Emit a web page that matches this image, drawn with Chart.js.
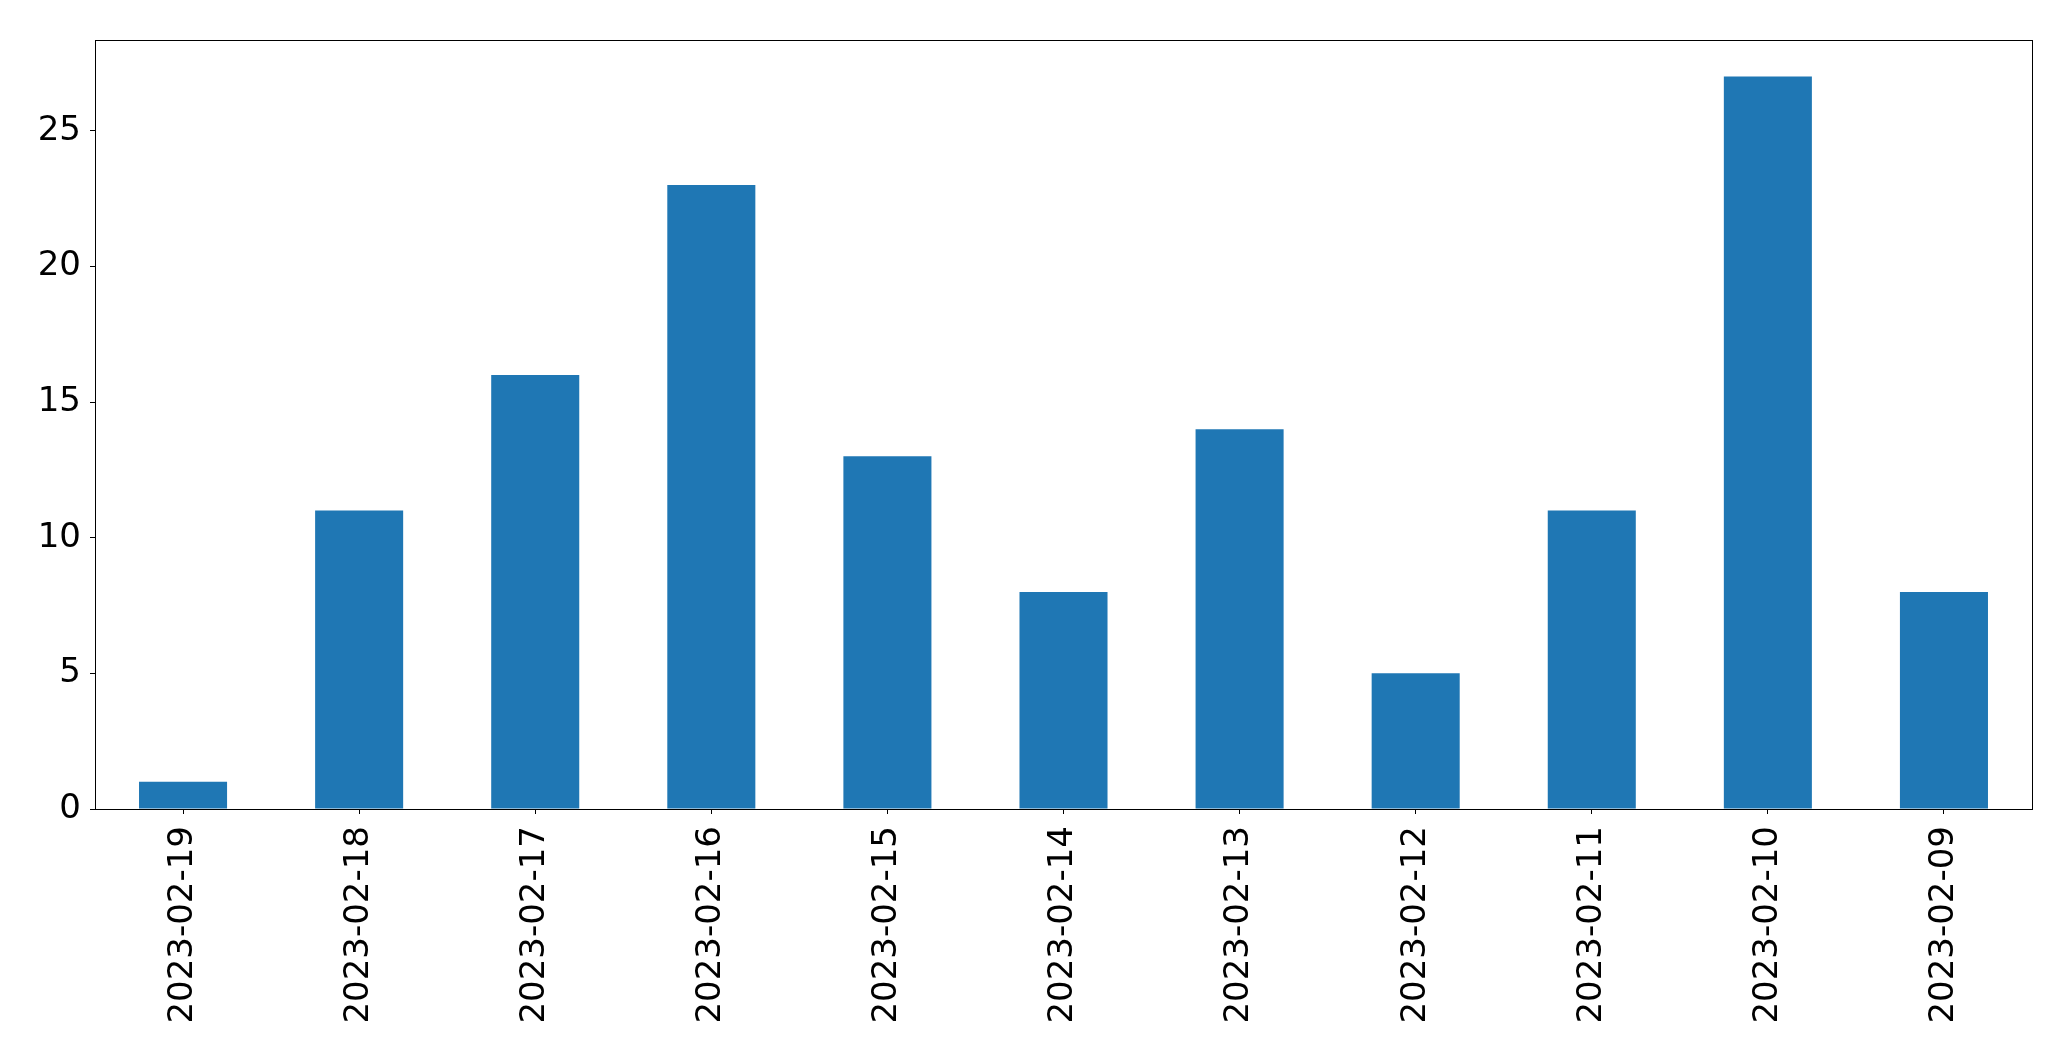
<!DOCTYPE html>
<html>
<head>
<meta charset="utf-8">
<script src="https://cdn.jsdelivr.net/npm/chart.js@4/dist/chart.umd.min.js"></script>
<style>
  html, body { margin: 0; padding: 0; background: #fff; }
  #wrap { width: 2071px; height: 1061px; }
</style>
</head>
<body>
<div id="wrap"><canvas id="chart1" width="2071" height="1061"></canvas></div>
<script>
var dates = ['2023-02-19', '2023-02-18', '2023-02-17', '2023-02-16', '2023-02-15', '2023-02-14',
             '2023-02-13', '2023-02-12', '2023-02-11', '2023-02-10', '2023-02-09'];
var counts = [1, 11, 16, 23, 13, 8, 14, 5, 11, 27, 8];
var yTicks = [0, 5, 10, 15, 20, 25];

Chart.defaults.font.family = 'DejaVu Sans';
Chart.defaults.color = '#000';

// matplotlib-style box round the plot area
var frame = {
    id: 'frame',
    afterDraw: function (chart) {
        var a = chart.chartArea;
        var ctx = chart.ctx;
        ctx.save();
        ctx.strokeStyle = '#000';
        ctx.lineWidth = 1;
        ctx.strokeRect(a.left + 0.5, a.top + 0.5, a.right - a.left, a.bottom - a.top);
        ctx.restore();
    }
};

var ctx = document.getElementById('chart1').getContext('2d');
var myChart1 = new Chart(ctx, {
    type: 'bar',
    data: {
        labels: dates,
        datasets: [{
            data: counts,
            backgroundColor: '#1f77b4',
            borderWidth: 0,
            barPercentage: 0.5,
            categoryPercentage: 1.0
        }]
    },
    options: {
        responsive: false,
        animation: false,
        layout: { padding: { top: 40, right: 39, left: 0, bottom: 0 } },
        plugins: {
            legend: { display: false },
            tooltip: { enabled: false }
        },
        scales: {
            x: {
                offset: true,
                border: { display: false },
                grid: {
                    offset: false,
                    drawOnChartArea: false,
                    drawTicks: true,
                    tickLength: 5,
                    color: '#000',
                    lineWidth: 1
                },
                ticks: {
                    minRotation: 90,
                    maxRotation: 90,
                    autoSkip: false,
                    padding: 12,
                    font: { size: 34 }
                },
                afterFit: function (scale) { scale.height = 252; }
            },
            y: {
                min: 0,
                max: 28.35,
                border: { display: false },
                grid: {
                    drawOnChartArea: false,
                    drawTicks: true,
                    tickLength: 5,
                    color: '#000',
                    lineWidth: 1
                },
                ticks: {
                    padding: 9,
                    font: { size: 34 }
                },
                afterBuildTicks: function (scale) {
                    scale.ticks = yTicks.map(function (v) { return { value: v }; });
                },
                afterFit: function (scale) { scale.width = 95; }
            }
        }
    },
    plugins: [frame]
});
</script>
</body>
</html>
